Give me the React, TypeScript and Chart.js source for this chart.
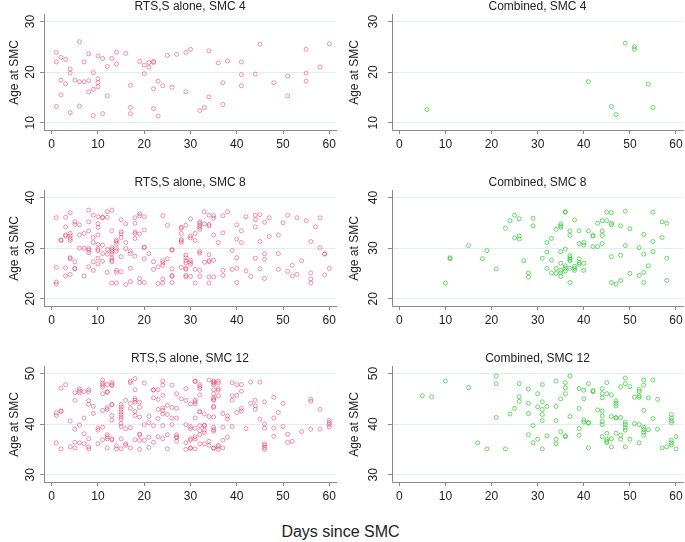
import React, { useEffect, useRef } from 'react';
import { Chart, registerables } from 'chart.js';

Chart.register(...registerables);

// ---------- tick labels ----------
const dayTicks = [0, 10, 20, 30, 40, 50, 60];
const ageTicksSmc4 = [10, 20, 30];
const ageTicksSmc8 = [20, 30, 40];
const ageTicksSmc12 = [30, 40, 50];

const panelTitles = [
  'RTS,S alone, SMC 4',
  'Combined, SMC 4',
  'RTS,S alone, SMC 8',
  'Combined, SMC 8',
  'RTS,S alone, SMC 12',
  'Combined, SMC 12',
];
const yAxisTitle = 'Age at SMC';
const xAxisTitle = 'Days since SMC';

// ---------- data: [day since SMC, [ages at SMC]] ----------
const rtsSmc4: [number, number[]][] = [
  [1, [23.9, 22.0, 13.2]], [2, [22.9, 18.4, 15.5]], [3, [22.5, 17.7]], [4, [20.6, 19.8, 12.0]],
  [5, [18.4]], [6, [26.0, 18.1, 13.3]], [7, [22.0, 18.1]], [8, [23.6, 18.3, 16.1]],
  [9, [19.9, 16.6, 11.4]], [10, [23.2, 18.7, 17.9, 17.1]], [11, [22.7, 11.8]], [12, [21.1, 15.3]],
  [13, [22.7]], [14, [23.9, 21.6]], [16, [23.7]], [17, [17.4, 13.0, 11.8]], [19, [22.1]],
  [20, [21.4, 19.7]], [21, [21.9, 21.0]], [22, [22.1, 21.9, 16.7, 12.8]], [23, [18.2, 11.3]],
  [24, [17.3]], [25, [23.3]], [26, [17.0]], [27, [23.5]], [29, [23.9, 16.1]], [30, [24.5]],
  [32, [12.4]], [33, [13.0]], [34, [24.2, 15.1]], [36, [21.8]], [37, [17.9, 13.6]], [38, [22.2]],
  [41, [22.0, 19.5, 17.3]], [44, [19.6]], [45, [25.5]], [48, [17.9]], [51, [19.2, 15.3]],
  [55, [24.5, 19.8, 18.2]], [58, [21.0]], [60, [25.6]],
];

const combinedSmc4: [number, number[]][] = [
  [6, [12.6]], [41, [18.1]], [46, [13.2]], [47, [11.6]], [49, [25.7]], [51, [25.0, 24.5]],
  [54, [17.6]], [55, [13.0]],
];

const rtsSmc8: [number, number[]][] = [
  [1, [36.0, 26.2, 23.3, 22.9]], [2, [31.6, 31.5]], [3, [36.1, 34.2, 32.6, 32.4, 26.1, 24.5]],
  [4, [37.0, 32.9, 32.4, 31.9, 31.5, 28.1, 27.9, 24.8]], [5, [35.2, 34.7, 27.3, 26.0, 25.9]],
  [6, [34.6, 32.6, 30.0]], [7, [32.9, 30.0, 24.5]], [8, [37.5, 35.2, 33.4, 29.9, 29.6, 29.1, 26.3]],
  [9, [36.5, 32.1, 31.1, 27.3, 25.6]], [10, [36.2, 34.8, 34.1, 32.6, 30.7, 29.8, 29.5, 28.0, 26.9]],
  [11, [36.1, 36.0, 30.6, 28.9, 27.4]], [12, [37.2, 36.1, 29.7, 28.8, 25.2]],
  [13, [37.5, 33.4, 30.1, 29.7, 29.3, 28.8, 28.1, 27.6, 27.3, 23.1]],
  [14, [31.6, 31.3, 30.9, 29.9, 29.4, 25.6, 25.2, 23.1]], [15, [35.6, 33.2, 32.8, 32.1, 28.3, 25.3]],
  [16, [34.8, 31.1, 29.9, 22.8]], [17, [29.4, 28.9, 26.0, 23.4]], [18, [36.0, 34.9, 33.2, 32.9, 31.9, 28.4]],
  [19, [36.8, 36.4, 32.8, 24.0, 23.2]], [20, [36.2, 33.6, 30.2, 30.1, 27.9, 23.2]], [21, [28.9]],
  [22, [27.3, 25.8]], [23, [26.3, 23.0]], [24, [36.4, 27.5, 27.1, 26.6, 23.9, 23.1]], [25, [34.5, 27.9]],
  [26, [29.6, 29.7, 25.9, 24.6, 24.4, 23.2]], [28, [34.1, 33.9, 32.9, 31.7, 31.4, 31.1, 26.2]],
  [29, [34.5, 28.6, 28.1, 27.5, 27.1, 26.0, 25.8, 24.6, 24.3]], [30, [35.8, 32.4, 32.0, 27.6, 27.2, 26.8, 24.4]],
  [31, [32.9, 31.5, 25.8, 23.1]], [32, [35.2, 34.9, 34.4, 34.1, 33.7, 29.3, 29.0, 25.6, 24.4]],
  [33, [37.2, 34.8, 27.2]], [34, [36.5, 34.7, 34.4, 28.7, 27.5, 27.3, 24.3, 23.1]],
  [35, [36.4, 35.9, 32.6, 27.6, 24.3]], [36, [31.1]], [37, [36.4, 33.0, 25.6, 24.6]], [38, [37.2]],
  [39, [29.5, 25.8]], [40, [34.6, 31.8, 28.1, 26.0, 23.2]], [41, [33.4, 31.1]], [42, [36.2, 25.5]],
  [43, [24.4]], [44, [36.5, 35.6, 34.2, 28.0]], [45, [36.6, 31.3, 25.9]], [46, [35.1, 28.9, 27.8, 24.0]],
  [47, [36.0, 32.3]], [49, [32.6, 28.9, 25.8]], [50, [35.0]], [51, [36.5, 25.4]], [52, [26.6, 24.5]],
  [53, [36.0, 24.8]], [54, [27.5]], [55, [35.4]], [56, [31.3, 25.1, 23.9, 23.1]], [57, [34.2]],
  [58, [36.0, 30.1]], [59, [28.8, 28.9, 24.7]], [60, [26.0]],
];

const combinedSmc8: [number, number[]][] = [
  [10, [23.1]], [11, [28.1, 27.9]], [15, [30.5]], [18, [27.9]], [19, [29.5]], [21, [25.9]],
  [23, [33.9]], [24, [35.4]], [25, [36.5, 32.0]], [26, [35.8, 32.4, 31.8]], [27, [27.5]],
  [28, [25.1, 24.3]], [29, [35.9, 34.4]], [31, [28.0]], [32, [31.1, 29.2, 26.0]], [33, [31.9, 27.6, 25.1]],
  [34, [33.7, 26.0, 25.0]], [35, [34.8, 34.4, 34.1, 29.3, 27.0, 25.6, 25.1, 24.4]],
  [36, [37.2, 37.1, 29.8, 26.5, 26.0, 25.5]], [37, [33.4, 32.5, 28.5, 28.1, 27.8, 27.5, 26.0, 23.2]],
  [38, [35.6, 26.4, 26.0, 25.6]], [39, [33.4, 30.9, 27.9, 27.1, 26.8]], [40, [31.1, 30.6, 27.0, 25.6]],
  [41, [33.4]], [42, [32.5, 32.4, 30.3]], [43, [34.9, 30.3]], [44, [35.4, 33.4, 32.5, 30.9]],
  [45, [37.1, 35.4]], [46, [37.0, 34.9, 34.6, 28.3, 23.2]], [47, [22.9]], [48, [34.4, 28.6, 23.6]],
  [49, [37.3, 30.5]], [50, [33.8, 25.0]], [52, [30.1, 24.6]], [53, [32.7, 28.8, 25.2, 23.2]],
  [54, [26.5]], [55, [37.1, 31.3, 29.3]], [57, [35.2, 32.1]], [58, [34.9, 28.0, 23.6]],
];

const rtsSmc12: [number, number[]][] = [
  [1, [42.2, 41.7, 36.3]], [2, [47.1, 42.6, 42.5, 35.1]], [3, [47.8]], [4, [40.6, 35.5]],
  [5, [46.2, 44.7, 39.0, 36.4, 35.3]], [6, [47.0, 46.6, 46.2, 39.8, 36.3]], [7, [46.4, 41.2, 38.1, 36.1]],
  [8, [46.8, 46.4, 44.6, 43.9, 37.1, 35.5, 35.1]], [9, [43.5, 42.1]], [10, [39.2, 38.8, 36.1]],
  [11, [48.7, 48.1, 47.7, 47.3, 46.0, 42.7, 39.4, 36.9]],
  [12, [47.8, 46.4, 46.3, 43.2, 42.9, 37.9, 37.5, 37.1, 35.3]],
  [13, [48.2, 47.8, 47.6, 43.9, 43.8, 41.7, 40.8, 37.1, 36.9]], [14, [35.7, 35.1]],
  [15, [43.9, 43.4, 42.9, 42.4, 41.9, 41.4, 41.0, 40.1, 39.5, 37.1, 35.1]], [16, [44.7, 39.1, 36.1, 35.8]],
  [17, [48.5, 48.2, 44.1, 43.1, 39.3, 35.3]], [18, [49.0, 46.8, 45.0, 44.7, 44.3, 42.5, 41.7, 36.9]],
  [19, [44.3, 43.3, 41.4, 38.0, 37.9, 36.8, 35.0]], [20, [48.1, 39.9, 36.8]], [21, [41.5, 40.3, 37.4, 35.4]],
  [22, [46.8, 46.7, 45.2, 39.7, 36.4]], [23, [46.8, 44.9, 42.9, 41.1, 37.5]],
  [24, [48.5, 47.7, 45.7, 43.2, 42.7, 42.0, 39.7, 37.1]], [25, [43.7, 41.9, 37.9, 35.1]],
  [26, [47.7, 43.3, 41.2, 39.9]], [27, [46.0, 43.1, 41.2, 37.9, 37.5, 37.3, 36.6]], [28, [45.0]],
  [29, [47.0, 44.7, 39.9, 36.3, 35.0]], [30, [44.0, 39.5, 39.1, 37.1, 36.8, 35.3, 35.2]],
  [31, [48.5, 48.4, 44.7, 44.4, 44.0, 41.2, 39.2, 37.5, 37.1, 35.1]],
  [32, [47.8, 47.4, 47.0, 45.8, 42.5, 42.4, 39.7, 38.7, 37.9, 36.1]], [33, [42.0, 39.8, 39.7, 38.8, 38.3, 36.1]],
  [34, [48.7, 41.5, 36.6, 35.8]],
  [35, [48.5, 48.3, 48.1, 47.8, 46.8, 46.0, 45.2, 44.9, 44.7, 43.5, 43.3, 41.4, 39.4, 38.9, 38.6, 35.3, 35.2]],
  [36, [48.5, 48.1, 47.0, 46.7, 45.6, 35.8, 35.5, 35.0]], [37, [42.1, 39.4, 36.8, 35.3]],
  [38, [41.6, 41.0, 37.4]], [39, [48.2, 45.6, 44.7, 39.5]], [40, [47.8, 45.7, 42.3]],
  [41, [47.8, 46.5, 43.1, 42.6]], [42, [39.1]], [43, [48.3, 44.1]], [44, [44.7, 43.6, 42.9]],
  [45, [48.3, 41.0]], [46, [44.4, 40.0, 39.2, 36.1, 35.8, 35.4, 35.0]], [48, [45.3, 41.2, 39.2, 37.6]],
  [49, [42.3]], [50, [44.1, 39.5]], [51, [38.0, 36.4]], [52, [36.6]], [54, [38.5]],
  [56, [44.9, 44.5, 39.0]], [58, [42.9, 39.0]], [60, [40.7, 40.3, 39.9, 39.4]],
];

const combinedSmc12: [number, number[]][] = [
  [5, [45.6]], [7, [45.4]], [10, [48.5]], [15, [47.2]], [17, [36.3]], [19, [35.1]],
  [21, [49.5, 48.0, 41.3]], [23, [35.1]], [24, [42.0]], [25, [43.1]], [26, [48.0, 45.4, 44.5]],
  [28, [46.9, 44.1, 42.1, 37.9]], [29, [39.7, 36.3]], [30, [46.0, 43.4, 37.0]],
  [31, [47.8, 44.4, 42.9, 41.9, 40.7, 35.1]], [32, [43.5, 37.7]], [34, [48.5, 43.5, 40.7, 37.0, 36.1]],
  [35, [45.0, 38.5]], [36, [48.2, 47.2, 46.0, 37.7, 37.5]], [37, [49.5, 41.5]],
  [39, [47.0, 43.1, 39.1, 37.8]], [40, [46.7, 45.0, 40.8, 40.4]], [41, [48.0, 40.3, 40.2, 35.3]],
  [42, [46.6, 46.4]], [43, [42.8]], [44, [47.0, 46.0, 45.2, 42.6, 41.6, 40.5, 39.9, 37.5]],
  [45, [48.2, 46.0, 38.2, 37.0, 36.6, 36.3]], [46, [45.8, 41.5, 37.1, 35.5]],
  [47, [44.6, 44.1, 43.6, 41.3, 41.2, 38.2]], [48, [47.4, 41.3, 37.8, 37.0]],
  [49, [49.1, 48.0, 40.4, 39.9, 39.3, 38.8, 35.5]], [50, [47.4, 37.0]], [51, [45.3, 40.1]],
  [52, [46.9, 46.5, 45.6, 45.3, 39.9, 36.3]], [53, [48.7, 47.7, 42.7, 39.4, 38.9, 38.4, 37.8]],
  [54, [45.2, 38.9]], [55, [48.7, 41.1]], [56, [44.9, 39.0]], [57, [35.3]], [58, [35.5]],
  [59, [41.9, 41.2, 40.7, 40.3, 36.8, 36.3, 35.9]], [60, [37.5, 35.1]],
];

// ---------- styling / layout ----------
const FONT = '"Liberation Sans", Arial, Helvetica, sans-serif';
const TEXT = '#222222';
const AXIS = '#8a8a8a';
const GRID = '#e3ecef';
const PINK = 'rgba(222, 45, 100, 0.5)';
const GREEN = 'rgba(45, 200, 45, 0.7)';

const columns = [
  { left: 0, width: 343, axisWidth: 44, padRight: 7, xMin: -1.664, xMax: 61.45, titlePad: 7.8, tickPad: 3 },
  { left: 343, width: 350, axisWidth: 49, padRight: 10, xMin: -1.583, xMax: 61.52, titlePad: 4.8, tickPad: 8 },
];
const rowChartTops = [15, 191, 367];
const TITLE_H = 16;
const PLOT_H = 115;
const XAXIS_H = 30;

type PanelSpec = {
  title: string;
  groups: [number, number[]][];
  yTicks: number[];
  color: string;
  row: number;
  col: number;
};

const panels: PanelSpec[] = [
  { title: panelTitles[0], groups: rtsSmc4, yTicks: ageTicksSmc4, color: PINK, row: 0, col: 0 },
  { title: panelTitles[1], groups: combinedSmc4, yTicks: ageTicksSmc4, color: GREEN, row: 0, col: 1 },
  { title: panelTitles[2], groups: rtsSmc8, yTicks: ageTicksSmc8, color: PINK, row: 1, col: 0 },
  { title: panelTitles[3], groups: combinedSmc8, yTicks: ageTicksSmc8, color: GREEN, row: 1, col: 1 },
  { title: panelTitles[4], groups: rtsSmc12, yTicks: ageTicksSmc12, color: PINK, row: 2, col: 0 },
  { title: panelTitles[5], groups: combinedSmc12, yTicks: ageTicksSmc12, color: GREEN, row: 2, col: 1 },
];

function Panel({ spec }: { spec: PanelSpec }) {
  const ref = useRef<HTMLCanvasElement | null>(null);
  const col = columns[spec.col];
  const top = rowChartTops[spec.row] - TITLE_H;
  const height = TITLE_H + PLOT_H + XAXIS_H;

  useEffect(() => {
    if (!ref.current) return;
    const points = spec.groups.flatMap(([d, ages]) => ages.map((a) => ({ x: d, y: a })));
    const lo = spec.yTicks[0];
    const hi = spec.yTicks[spec.yTicks.length - 1];
    const font = { family: FONT, size: 12, weight: 'normal' as const };
    const chart = new Chart(ref.current, {
      type: 'scatter',
      data: {
        datasets: [
          {
            data: points,
            pointStyle: 'circle',
            pointRadius: 2,
            pointHoverRadius: 2,
            borderWidth: 1,
            borderColor: spec.color,
            backgroundColor: 'rgba(0,0,0,0)',
          },
        ],
      },
      options: {
        animation: false,
        responsive: false,
        events: [],
        layout: { padding: { left: 0, right: col.padRight, top: 0, bottom: 0 } },
        plugins: {
          legend: { display: false },
          tooltip: { enabled: false },
          title: {
            display: true,
            text: spec.title,
            fullSize: false,
            color: TEXT,
            font,
            padding: { top: 0, bottom: TITLE_H - 14.4 },
          },
        },
        scales: {
          x: {
            type: 'linear',
            min: col.xMin,
            max: col.xMax,
            afterBuildTicks: (s: any) => {
              s.ticks = dayTicks.map((v) => ({ value: v }));
            },
            afterFit: (s: any) => {
              s.height = XAXIS_H;
            },
            grid: { drawOnChartArea: false, drawTicks: true, tickLength: 4, tickColor: AXIS, tickWidth: 1 },
            border: { display: true, color: AXIS, width: 1 },
            ticks: { color: TEXT, font, padding: 3, minRotation: 0, maxRotation: 0, autoSkip: false },
          },
          y: {
            type: 'linear',
            min: lo - 1.44,
            max: hi + 1.28,
            afterBuildTicks: (s: any) => {
              s.ticks = spec.yTicks.map((v) => ({ value: v }));
            },
            afterFit: (s: any) => {
              s.width = col.axisWidth;
            },
            grid: { color: GRID, lineWidth: 1, drawTicks: true, tickLength: 4, tickColor: AXIS, tickWidth: 1 },
            border: { display: true, color: AXIS, width: 1 },
            ticks: {
              color: TEXT,
              font,
              padding: col.tickPad,
              minRotation: 90,
              maxRotation: 90,
              crossAlign: 'center',
              autoSkip: false,
            },
            title: {
              display: true,
              text: yAxisTitle,
              color: TEXT,
              font,
              padding: { top: col.titlePad, bottom: 0 },
            },
          },
        },
      } as any,
    });
    return () => chart.destroy();
  }, [spec]);

  return (
    <canvas
      ref={ref}
      width={col.width}
      height={height}
      style={{ position: 'absolute', left: col.left, top, width: col.width, height }}
    />
  );
}

export default function App() {
  return (
    <div
      style={{
        position: 'absolute',
        left: 0,
        top: 0,
        width: 685,
        height: 542,
        overflow: 'hidden',
        background: '#ffffff',
      }}
    >
      {panels.map((p, i) => (
        <Panel key={i} spec={p} />
      ))}
      <div
        style={{
          position: 'absolute',
          left: 0,
          width: 681,
          top: 523,
          height: 18,
          lineHeight: '18px',
          textAlign: 'center',
          fontFamily: FONT,
          fontSize: 16,
          color: TEXT,
        }}
      >
        {xAxisTitle}
      </div>
    </div>
  );
}
